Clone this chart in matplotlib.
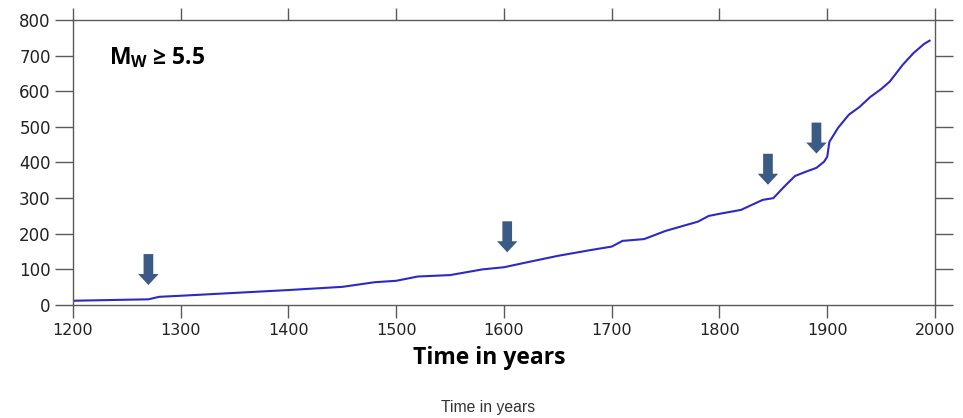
import matplotlib
matplotlib.use("Agg")
import matplotlib.pyplot as plt
import numpy as np
from matplotlib.patches import FancyArrow

# cumulative number of M_W >= 5.5 events
years = [1200, 1270, 1280, 1300, 1350, 1400, 1450, 1480, 1500, 1520, 1550, 1580,
         1600, 1620, 1650, 1680, 1700, 1710, 1730, 1750, 1780, 1790, 1800, 1820,
         1840, 1850, 1860, 1870, 1880, 1890, 1897, 1900, 1902, 1910, 1920, 1930,
         1940, 1950, 1958, 1970, 1980, 1990, 1995]
counts = [12, 16, 23, 26, 34, 42, 51, 64, 68, 80, 84, 100,
          106, 119, 138, 154, 164, 180, 185, 208, 234, 250, 256, 267,
          295, 300, 332, 362, 374, 385, 402, 416, 458, 497, 534, 556,
          584, 606, 627, 674, 707, 733, 742]
arrow_years = [1270, 1603, 1845, 1890]

x_ticks = [1200, 1300, 1400, 1500, 1600, 1700, 1800, 1900, 2000]
y_ticks = [0, 100, 200, 300, 400, 500, 600, 700, 800]

LINE = "#2b2bc4"
ARROW = "#3b5a86"
AXIS = "#5a5a5a"


def main() -> None:
    fig = plt.figure(figsize=(9.63, 4.18), dpi=100)
    ax = fig.add_axes([0.0758, 0.2703, 0.8951, 0.6819])

    ax.plot(years, counts, color=LINE, lw=1.5)

    # arrows pointing down at the curve
    for yr in arrow_years:
        tip = np.interp(yr, years, counts) + 40
        ax.add_patch(FancyArrow(yr, tip + 87, 0, -87, width=9.0, head_width=19.0,
                                head_length=31, length_includes_head=True,
                                color=ARROW, lw=0))

    ax.set_xlim(1200, 2000)
    ax.set_ylim(0, 800)
    ax.set_xticks(x_ticks)
    ax.set_yticks(y_ticks)

    for sp in ax.spines.values():
        sp.set_color(AXIS)
        sp.set_linewidth(1.0)
    ax.tick_params(axis="x", which="both", direction="out", length=9, width=1.0,
                   color=AXIS, top=True, labeltop=False, pad=4,
                   labelsize=11.5, labelcolor="#222222")
    ax.tick_params(axis="y", which="both", direction="out", length=13, width=1.0,
                   color=AXIS, right=True, labelright=False, pad=3,
                   labelsize=12, labelcolor="#222222")

    ax.text(1233, 695, r"M$_\mathregular{W}$ ≥ 5.5", fontsize=16.5,
            fontweight="bold", family="Open Sans", va="center", ha="left")

    fig.text(0.508, 0.143, "Time in years", fontsize=16.5, fontweight="bold",
             family="Open Sans", ha="center", va="center")
    fig.text(0.507, 0.024, "Time in years", fontsize=11.3, color="#333333",
             family="Liberation Sans", ha="center", va="center")

    fig.savefig("out.png", dpi=100)


if __name__ == "__main__":
    main()
